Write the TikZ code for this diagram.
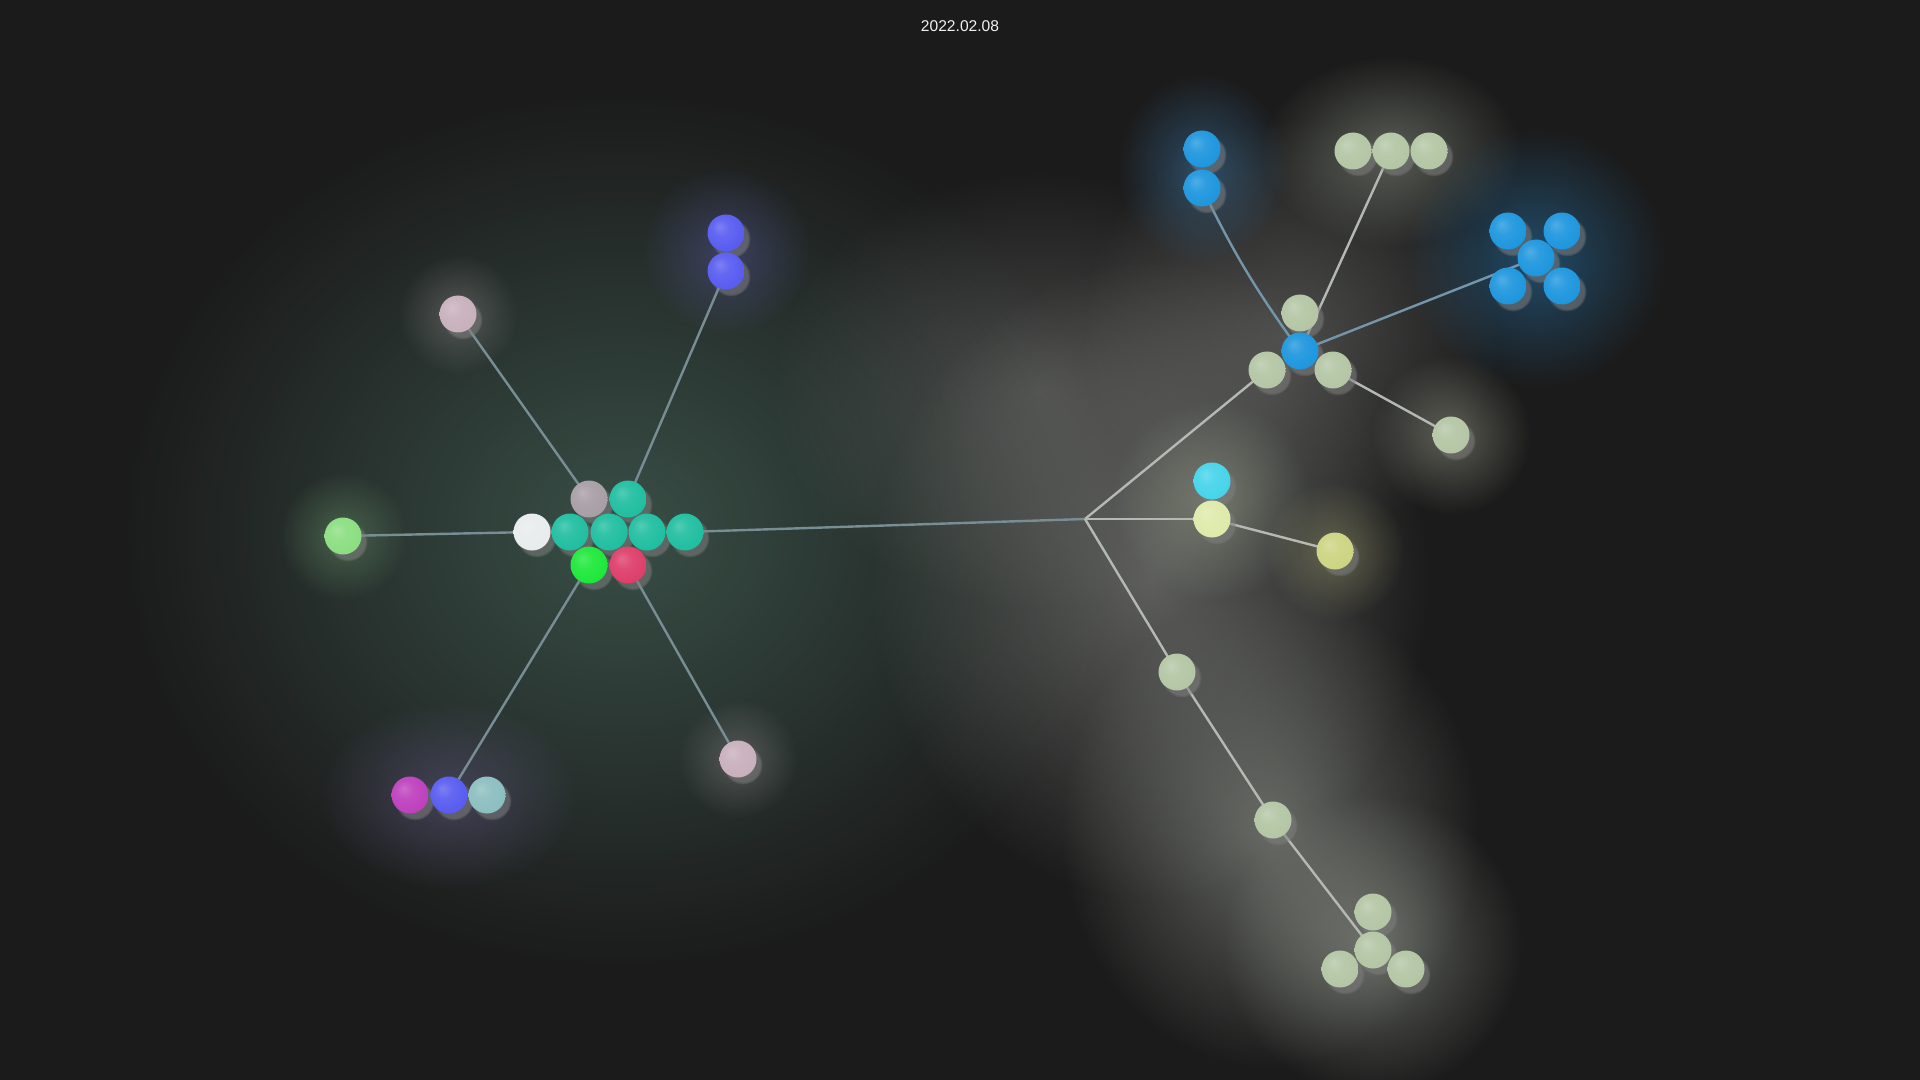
\documentclass[tikz,border=0pt]{standalone}
\usepackage{fontspec}
\setmainfont{Liberation Sans}
\usetikzlibrary{shadows,fadings}

\definecolor{bg}{RGB}{27,27,27}
\definecolor{cteal}{RGB}{32,190,160}
\definecolor{cmauve}{RGB}{168,158,165}
\definecolor{cwhite}{RGB}{232,236,236}
\definecolor{cgreen}{RGB}{30,232,58}
\definecolor{cred}{RGB}{222,62,106}
\definecolor{clgreen}{RGB}{140,222,130}
\definecolor{cpink}{RGB}{200,176,188}
\definecolor{cviolet}{RGB}{88,92,240}
\definecolor{cmagenta}{RGB}{190,64,190}
\definecolor{cgteal}{RGB}{140,190,192}
\definecolor{cblue}{RGB}{30,150,222}
\definecolor{csage}{RGB}{180,198,165}
\definecolor{ccyan}{RGB}{70,212,234}
\definecolor{cyel}{RGB}{222,234,170}
\definecolor{cyel2}{RGB}{205,212,130}
\definecolor{lineL}{RGB}{120,142,148}
\definecolor{lineR}{RGB}{180,185,180}
\definecolor{lineB}{RGB}{115,150,170}
\definecolor{txt}{RGB}{240,240,240}
% glow colours
\definecolor{gGreen}{RGB}{62,88,78}
\definecolor{gGray1}{RGB}{125,125,123}
\definecolor{gGray2}{RGB}{135,137,133}
\definecolor{gGray3}{RGB}{150,154,146}
\definecolor{gGray4}{RGB}{170,176,164}
\definecolor{gSage}{RGB}{180,190,170}
\definecolor{gBlue1}{RGB}{60,120,170}
\definecolor{gBlue2}{RGB}{40,115,170}
\definecolor{gLone}{RGB}{185,190,165}
\definecolor{gYel}{RGB}{190,190,130}
\definecolor{gYel1}{RGB}{200,215,180}
\definecolor{gViol}{RGB}{95,95,175}
\definecolor{gPurp}{RGB}{115,100,155}
\definecolor{gLg}{RGB}{120,170,120}
\definecolor{gPink}{RGB}{170,160,165}
\colorlet{spherecol}{gray}

\pgfdeclarelayer{glowlayer}
\pgfdeclarelayer{edgelayer}
\pgfsetlayers{glowlayer,edgelayer,main}

\tikzfading[name=glowfade, inner color=transparent!0, outer color=transparent!100]
\pgfdeclareradialshading[spherecol]{softball}{\pgfpoint{-9bp}{9bp}}{color(0bp)=(spherecol!78!white); color(12bp)=(spherecol!93!white); color(28bp)=(spherecol); color(42bp)=(spherecol!90!black); color(50bp)=(spherecol!84!black)}

\tikzset{
  sph/.style={circle, minimum size=18.5pt, inner sep=0pt, outer sep=0pt,
    /utils/exec={\colorlet{spherecol}{#1}}, shading=softball,
    circular drop shadow={shadow xshift=2.2pt, shadow yshift=-2.6pt, shadow scale=1.08, opacity=0.55}},
  lnk/.style={line width=1.2pt, draw=#1},
  glow/.style={fill=#1, path fading=glowfade}
}

\begin{document}
\begin{tikzpicture}[x=0.5pt,y=-0.5pt]
\useasboundingbox (0,0) rectangle (1920,1080);
\begin{pgfonlayer}{glowlayer}
\fill[bg] (0,0) rectangle (1920,1080);
\begin{scope}
\clip (0,0) rectangle (1920,1080);
\fill[glow=gGreen, opacity=0.85] (620,530) ellipse (500 and 440);
\fill[glow=gGray1, opacity=0.45] (1040,390) ellipse (270 and 220);
\fill[glow=gGray2, opacity=0.62] (1150,580) ellipse (280 and 320);
\fill[glow=gGray2, opacity=0.45] (1290,330) circle (210);
\fill[glow=gGray3, opacity=0.6] (1270,830) ellipse (210 and 240);
\fill[glow=gGray4, opacity=0.5] (1372,945) circle (150);
\fill[glow=gSage, opacity=0.4] (1391,151) ellipse (130 and 95);
\fill[glow=gBlue1, opacity=0.5] (1202,168) ellipse (85 and 95);
\fill[glow=gBlue2, opacity=0.55] (1536,258) circle (130);
\fill[glow=gLone, opacity=0.4] (1451,435) circle (80);
\fill[glow=gYel, opacity=0.35] (1335,551) circle (70);
\fill[glow=gYel1, opacity=0.3] (1212,500) circle (100);
\fill[glow=gViol, opacity=0.4] (726,252) circle (85);
\fill[glow=gPurp, opacity=0.4] (449,795) ellipse (130 and 95);
\fill[glow=gLg, opacity=0.4] (343,536) circle (65);
\fill[glow=gPink, opacity=0.35] (458,314) circle (60);
\fill[glow=gPink, opacity=0.35] (738,759) circle (60);
\end{scope}
\end{pgfonlayer}

% ---- nodes ----
\coordinate (hub) at (1085,519);

% central cluster
\node[sph=cmauve] (cgray) at (589,499) {};
\node[sph=cteal] (ct1) at (628,499) {};
\node[sph=cwhite] (cwh) at (532,532) {};
\node[sph=cteal] (ct2) at (570,532) {};
\node[sph=cteal] (ct3) at (609,532) {};
\node[sph=cteal] (ct4) at (647,532) {};
\node[sph=cteal] (ct5) at (685,532) {};
\node[sph=cgreen] (cgr) at (589,565) {};
\node[sph=cred] (cred) at (628,565) {};

% left satellites
\node[sph=clgreen] (lg) at (343,536) {};
\node[sph=cpink] (pk1) at (458,314) {};
\node[sph=cviolet] (bp1) at (726,233) {};
\node[sph=cviolet] (bp2) at (726,271) {};
\node[sph=cmagenta] (bl1) at (410,795) {};
\node[sph=cviolet] (bl2) at (449,795) {};
\node[sph=cgteal] (bl3) at (487,795) {};
\node[sph=cpink] (pk2) at (738,759) {};

% right part
\node[sph=ccyan] (cy) at (1212,481) {};
\node[sph=cyel] (ly1) at (1212,519) {};
\node[sph=cyel2] (ly2) at (1335,551) {};
\node[sph=csage] (g1) at (1177,672) {};
\node[sph=csage] (g2) at (1273,820) {};
\node[sph=csage] (btt) at (1373,912) {};
\node[sph=csage] (btm) at (1373,950) {};
\node[sph=csage] (btl) at (1340,969) {};
\node[sph=csage] (btr) at (1406,969) {};

\node[sph=csage] (urt) at (1300,313) {};
\node[sph=cblue] (urc) at (1300,351) {};
\node[sph=csage] (url) at (1267,370) {};
\node[sph=csage] (urr) at (1333,370) {};
\node[sph=cblue] (ub1) at (1202,149) {};
\node[sph=cblue] (ub2) at (1202,188) {};
\node[sph=csage] (tt1) at (1353,151) {};
\node[sph=csage] (tt2) at (1391,151) {};
\node[sph=csage] (tt3) at (1429,151) {};
\node[sph=cblue] (xtl) at (1508,231) {};
\node[sph=cblue] (xtr) at (1562,231) {};
\node[sph=cblue] (xc) at (1536,258) {};
\node[sph=cblue] (xbl) at (1508,286) {};
\node[sph=cblue] (xbr) at (1562,286) {};
\node[sph=csage] (lo) at (1451,435) {};

% ---- connectors (behind spheres) ----
\begin{pgfonlayer}{edgelayer}
\draw[lnk=lineL] (cwh.center) -- (lg.center);
\draw[lnk=lineL] (cgray.center) -- (pk1.center);
\draw[lnk=lineL] (ct1.center) -- (bp2.center);
\draw[lnk=lineL] (cgr.center) -- (bl2.center);
\draw[lnk=lineL] (cred.center) -- (pk2.center);
\draw[lnk=lineL] (ct5.center) -- (hub);
\draw[lnk=lineR] (hub) -- (url.center);
\draw[lnk=lineR] (hub) -- (ly1.center);
\draw[lnk=lineR] (ly1.center) -- (ly2.center);
\draw[lnk=lineR] (hub) -- (g1.center);
\draw[lnk=lineR] (g1.center) -- (g2.center);
\draw[lnk=lineR] (g2.center) -- (btm.center);
\draw[lnk=lineB] (urc.center) to[bend left=5] (ub2.center);
\draw[lnk=lineR] (urc.center) -- (tt2.center);
\draw[lnk=lineB] (urc.center) -- (xc.center);
\draw[lnk=lineR] (urr.center) -- (lo.center);
\end{pgfonlayer}

% title
\node[text=txt, font=\fontsize{7.8}{9}\selectfont] (title) at (960,26) {2022.02.08};
\end{tikzpicture}
\end{document}
